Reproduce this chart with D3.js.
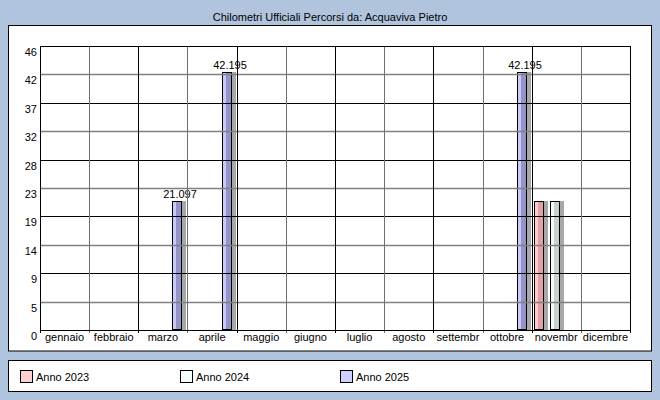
<!DOCTYPE html>
<html><head><meta charset="utf-8">
<script src="https://cdn.jsdelivr.net/npm/d3@7"></script>
<style>
html,body{margin:0;padding:0;background:#B0C4DE;}
svg{display:block;}
text{font-family:"Liberation Sans",Arial,sans-serif;font-size:11px;fill:#000;}
</style></head>
<body>
<script>
const title = "Chilometri Ufficiali Percorsi da: Acquaviva Pietro";
const months = ["gennaio","febbraio","marzo","aprile","maggio","giugno","luglio","agosto","settembr","ottobre","novembr","dicembre"];
const seriesNames = ["Anno 2023","Anno 2024","Anno 2025"];
const anno2023 = [0,0,0,0,0,0,0,0,0,0,21.097,0];
const anno2024 = [0,0,0,0,0,0,0,0,0,0,21.097,0];
const anno2025 = [0,0,21.097,42.195,0,0,0,0,0,42.195,0,0];
const yMax = 46.41;
const tickCount = 10;
const fillLight = ["#FFCACA","#F2FAFA","#CACAF8"];
const fillDark = ["#E0A0A8","#C8D0D0","#9494C8"];
const swatch = ["#FFD0D0","#F4FCFC","#D0D0FF"];
const showLabel = [false,false,true];

const W=660,H=400;
const svg=d3.select("body").append("svg").attr("width",W).attr("height",H);
svg.append("rect").attr("width",W).attr("height",H).attr("fill","#B0C4DE");
svg.append("rect").attr("x",8.5).attr("y",25.5).attr("width",643).attr("height",325.5).attr("fill","#fff").attr("stroke","#000");
svg.append("rect").attr("x",8.5).attr("y",360.5).attr("width",643).attr("height",31).attr("fill","#fff").attr("stroke","#000");
svg.append("text").attr("x",330).attr("y",21).attr("text-anchor","middle").text(title);

const pL=40,pR=630,pT=46,pB=330;
const x=d3.scaleBand().domain(months).range([pL,pR]).padding(0);
const bw=x.bandwidth();
const xs=d3.scaleBand().domain(seriesNames).range([2,44]).paddingInner(0.375).paddingOuter(0);
const y=d3.scaleLinear().domain([0,yMax]).range([pB,pT]);
const ticks=d3.range(tickCount+1).map(i=>i*yMax/tickCount);

const data=[anno2023,anno2024,anno2025];
const g=svg.append("g");
// bars
data.forEach((vals,si)=>{
  months.forEach((m,mi)=>{
    const v=vals[mi]; if(!v) return;
    const x0=Math.round(x(m)+xs(seriesNames[si])); const w=Math.round(xs.bandwidth());
    const y0=Math.round(y(v)), h=y(0)-y0;
    g.append("rect").attr("x",x0+w).attr("y",y0).attr("width",4).attr("height",h).attr("fill","#A8A8A8");
    g.append("rect").attr("x",x0).attr("y",y0).attr("width",w).attr("height",h).attr("fill",fillLight[si]);
    g.append("rect").attr("x",x0+w/2-1).attr("y",y0).attr("width",w/2+1).attr("height",h).attr("fill",fillDark[si]);
    g.append("rect").attr("x",x0+0.5).attr("y",y0+0.5).attr("width",w-1).attr("height",h-1).attr("fill","none").attr("stroke","#000");
    if(showLabel[si]) g.append("text").attr("x",x0+w/2+3).attr("y",y0-3).attr("text-anchor","middle").text(d3.format(".3f")(v));
  });
});
// horizontal grid
ticks.forEach((t,i)=>{
  if(i===0) return;
  g.append("line").attr("x1",pL).attr("x2",pR).attr("y1",Math.round(y(t))+0.5).attr("y2",Math.round(y(t))+0.5)
   .attr("stroke", i%2===1 ? "#808080" : "#000").attr("stroke-width", i%2===1?1.5:1);
});
// vertical grid
months.forEach((m,i)=>{
  const xx=Math.round(x(m)+bw)+0.5;
  g.append("line").attr("x1",xx).attr("x2",xx).attr("y1",pT).attr("y2",pB+3)
   .attr("stroke", i%2===0 ? "#707070" : "#000");
});
// axes
g.append("line").attr("x1",pL+0.5).attr("x2",pL+0.5).attr("y1",pT).attr("y2",pB+3).attr("stroke","#000");
g.append("line").attr("x1",pL).attr("x2",pR+1).attr("y1",pB+0.5).attr("y2",pB+0.5).attr("stroke","#000");
g.append("line").attr("x1",pL).attr("x2",pR+1).attr("y1",pT+0.5).attr("y2",pT+0.5).attr("stroke","#000");
// y labels
ticks.forEach(t=>{
  svg.append("text").attr("x",37).attr("y",y(t)+10).attr("text-anchor","end").text(Math.round(t));
});
// x labels
months.forEach(m=>{
  svg.append("text").attr("x",x(m)+bw/2).attr("y",341).attr("text-anchor","middle").text(m);
});
// legend
seriesNames.forEach((s,i)=>{
  const lx=20+i*160;
  svg.append("rect").attr("x",lx+0.5).attr("y",370.5).attr("width",12).attr("height",12).attr("fill",swatch[i]).attr("stroke","#000");
  svg.append("text").attr("x",lx+16).attr("y",381).text(s);
});
</script>
</body></html>
